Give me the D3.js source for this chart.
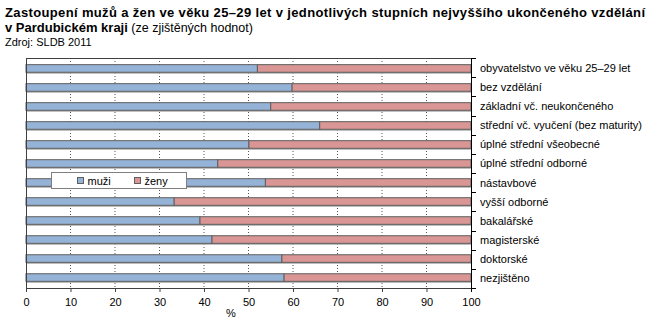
<!DOCTYPE html>
<html><head><meta charset="utf-8">
<script src="https://cdn.jsdelivr.net/npm/d3@7"></script>
<style>
body{margin:0;background:#fff;}
text{font-family:"Liberation Sans",Arial,sans-serif;}
</style></head>
<body>
<svg id="c" width="672" height="322"></svg>
<script>
const categories = ["obyvatelstvo ve věku 25–29 let","bez vzdělání","základní vč. neukončeného","střední vč. vyučení (bez maturity)","úplné střední všeobecné","úplné střední odborné","nástavbové","vyšší odborné","bakalářské","magisterské","doktorské","nezjištěno"];
const muzi = [52.0, 59.8, 55.0, 66.0, 50.1, 43.1, 53.8, 33.3, 39.1, 41.8, 57.5, 58.0];
const zeny = muzi.map(v => 100 - v);
const xTicks = [0,10,20,30,40,50,60,70,80,90,100];
const seriesNames = ["muži","ženy"];
const colors = ["#95B3D7","#D99694"];

const svg = d3.select("#c");
const L = 26, R = 471, T = 58, B = 288;
const x = d3.scaleLinear().domain([0,100]).range([L,R]);
const y = d3.scaleBand().domain(categories).range([T,B]).paddingInner(0.6).paddingOuter(0.35);

// titles
const t1 = svg.append("text").attr("x",5).attr("y",17).attr("font-size",13).attr("font-weight","bold")
  .text("Zastoupení mužů a žen ve věku 25–29 let v jednotlivých stupních nejvyššího ukončeného vzdělání");
t1.attr("textLength",640).attr("lengthAdjust","spacing");
const t2 = svg.append("text").attr("x",5).attr("y",31.5).attr("font-size",13);
t2.append("tspan").attr("font-weight","bold").text("v Pardubickém kraji");
t2.append("tspan").attr("font-size",12.5).text(" (ze zjištěných hodnot)");
svg.append("text").attr("x",5).attr("y",45.5).attr("font-size",11).text("Zdroj: SLDB 2011");

// grid
svg.append("g").selectAll("line").data(xTicks.filter(d=>d>0&&d<100)).join("line")
  .attr("x1",d=>x(d)).attr("x2",d=>x(d)).attr("y1",T).attr("y2",B)
  .attr("stroke","#555").attr("stroke-width",1).attr("stroke-dasharray","1,2");

// bars
const g = svg.append("g");
categories.forEach((c,i)=>{
  const yy = y(c), h = y.bandwidth();
  // shadow
  g.append("rect").attr("x",x(0)).attr("y",yy+1.5).attr("width",x(100)-x(0)).attr("height",h)
    .attr("fill","#b0b0b0");
  g.append("rect").attr("x",x(0)).attr("y",yy).attr("width",x(muzi[i])-x(0)).attr("height",h)
    .attr("fill",colors[0]).attr("stroke","#5f5f5f").attr("stroke-width",1);
  g.append("rect").attr("x",x(muzi[i])).attr("y",yy).attr("width",x(muzi[i]+zeny[i])-x(muzi[i])).attr("height",h)
    .attr("fill",colors[1]).attr("stroke","#5f5f5f").attr("stroke-width",1);
});

// frame lines
svg.append("line").attr("x1",L).attr("x2",R).attr("y1",T+0.5).attr("y2",T+0.5).attr("stroke","#404040");
svg.append("line").attr("x1",L+0.5).attr("x2",L+0.5).attr("y1",T).attr("y2",B).attr("stroke","#404040");

// bottom axis
const xa = svg.append("g").attr("transform",`translate(0,${B})`)
  .call(d3.axisBottom(x).tickValues(xTicks).tickSize(4).tickPadding(6).tickFormat(d3.format("d")));
xa.select(".domain").attr("stroke","#404040");
xa.selectAll(".tick line").attr("stroke","#404040");
xa.selectAll("text").attr("font-size",11).attr("fill","#000").attr("font-family","Liberation Sans, Arial, sans-serif");
svg.append("text").attr("x",231).attr("y",317).attr("text-anchor","middle").attr("font-size",11).text("%");

// right axis with boundary ticks
const boundaries = d3.range(categories.length+1).map(i=>T + i*(B-T)/categories.length);
svg.append("line").attr("x1",R+0.5).attr("x2",R+0.5).attr("y1",T).attr("y2",B+4).attr("stroke","#000");
svg.append("g").selectAll("line").data(boundaries).join("line")
  .attr("x1",R).attr("x2",R+5).attr("y1",d=>Math.round(d)+0.5).attr("y2",d=>Math.round(d)+0.5).attr("stroke","#000");
svg.append("g").selectAll("text").data(categories).join("text")
  .attr("x",480).attr("y",d=>y(d)+y.bandwidth()/2+4).attr("font-size",11).text(d=>d);

// legend
const lg = svg.append("g");
lg.append("rect").attr("x",51.5).attr("y",172.5).attr("width",135).attr("height",16)
  .attr("fill","#fff").attr("stroke","#7f7f7f");
seriesNames.forEach((s,i)=>{
  const lx = [77.5,134.5][i];
  lg.append("rect").attr("x",lx).attr("y",177.5).attr("width",6).attr("height",6)
    .attr("fill",colors[i]).attr("stroke","#5f5f5f");
  lg.append("text").attr("x",lx+10).attr("y",185).attr("font-size",11).text(s);
});
</script>
</body></html>
